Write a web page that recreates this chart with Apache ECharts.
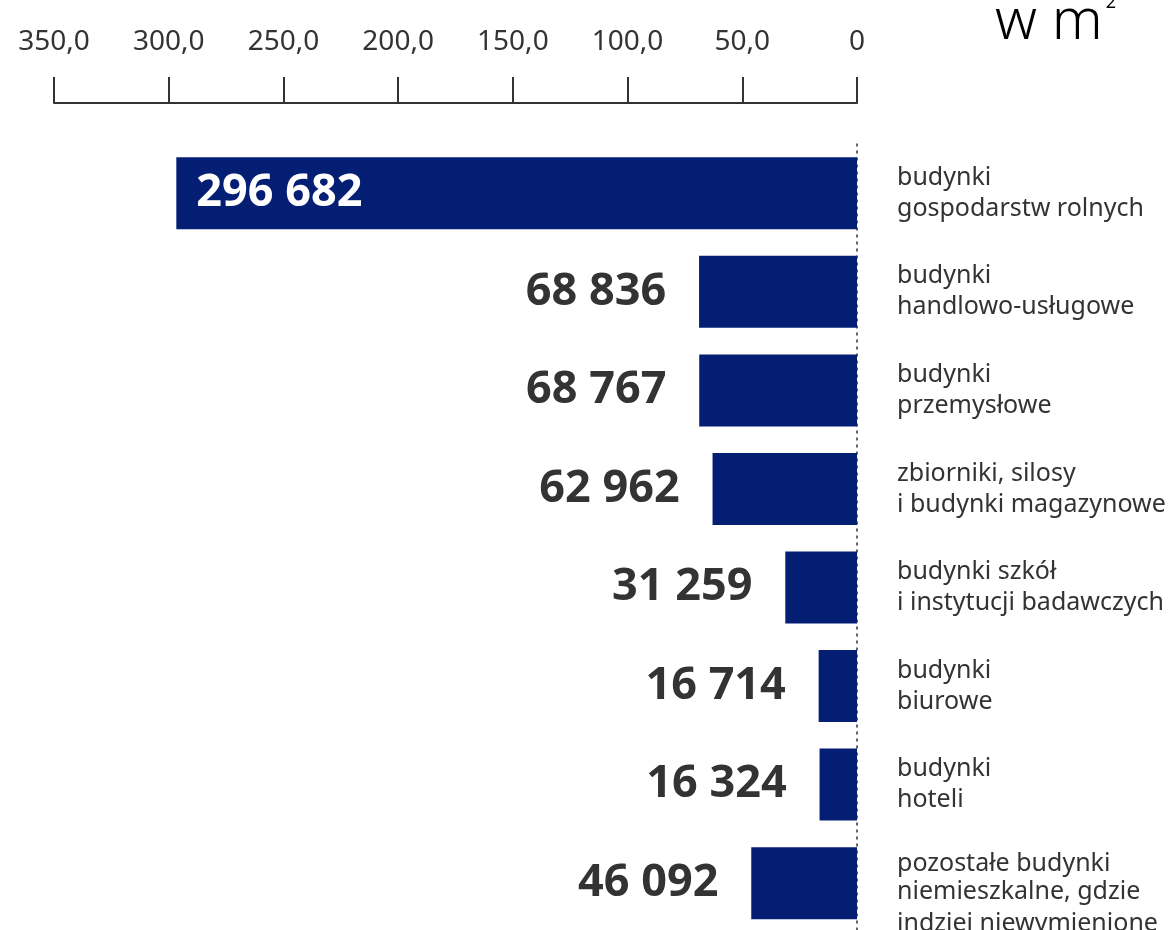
<!DOCTYPE html>
<html><head><meta charset="utf-8">
<script src="https://cdn.jsdelivr.net/npm/echarts@6/dist/echarts.min.js"></script>
<style>html,body{margin:0;padding:0;background:#fff;overflow:hidden}#c{width:1170px;height:940px}</style>
</head><body><div id="c"></div>
<script>
const categories = [
  'budynki\ngospodarstw rolnych',
  'budynki\nhandlowo-usługowe',
  'budynki\nprzemysłowe',
  'zbiorniki, silosy\ni budynki magazynowe',
  'budynki szkół\ni instytucji badawczych',
  'budynki\nbiurowe',
  'budynki\nhoteli',
  'pozostałe budynki\nniemieszkalne, gdzie\nindziej niewymienione'
];
const values = [296.682, 68.836, 68.767, 62.962, 31.259, 16.714, 16.324, 46.092];
const valueLabels = ['296 682','68 836','68 767','62 962','31 259','16 714','16 324','46 092'];
const tickValues = [0, 50, 100, 150, 200, 250, 300, 350];
const unitText = 'w m';

const FONT = '"Noto Sans", "Open Sans", sans-serif';
const chart = echarts.init(document.getElementById('c'));
chart.setOption({
  animation: false,
  textStyle: {fontFamily: FONT},
  grid: {left: 54, right: 313, top: 144, bottom: 5, containLabel: false},
  xAxis: {
    type: 'value', position: 'top', inverse: true, min: 0, max: 350, interval: 50,
    offset: 41,
    axisLine: {show: true, lineStyle: {color: '#333', width: 2}},
    axisTick: {show: true, length: 26, lineStyle: {color: '#333', width: 2}},
    splitLine: {show: false},
    axisLabel: {margin: 47, color: '#333', fontSize: 28, fontFamily: FONT,
      formatter: v => v === 0 ? '0' : v.toFixed(1).replace('.', ',')}
  },
  yAxis: {
    type: 'category', inverse: true, position: 'right', data: categories,
    axisLine: {show: true, lineStyle: {color: '#333', width: 1.5, type: [2, 5]}},
    axisTick: {show: false},
    axisLabel: {margin: 40, color: '#333', fontSize: 25, lineHeight: 31, align: 'left', fontFamily: FONT,
      formatter: (v, i) => {
        const lines = v.split('\n');
        if (lines.length < 3) return lines.map(l => '{n|' + l + '}').join('\n');
        return lines.map((l, k) => (k === 0 ? '{f|' : '{m|') + l + '}').join('\n');
      },
      rich: {
        n: {fontSize: 25, lineHeight: 31, color: '#333', fontFamily: FONT},
        m: {fontSize: 25, lineHeight: 32, color: '#333', fontFamily: FONT},
        f: {fontSize: 25, lineHeight: 50, verticalAlign: 'bottom', color: '#333', fontFamily: FONT}
      }
    }
  },
  series: [{
    type: 'bar', barWidth: 72,
    itemStyle: {color: '#041E74'},
    data: values.map((v, i) => ({
      value: v,
      label: i === 0 ? {show: true, position: 'insideLeft', distance: 20, color: '#fff', fontSize: 45, fontWeight: 'bold',
                         formatter: () => valueLabels[i]}
                     : {show: true, position: 'left', distance: 103, align: 'center', color: '#333', fontSize: 45, fontWeight: 'bold',
                         formatter: () => valueLabels[i]}
    }))
  }],
  graphic: [{
    type: 'text', left: 995, top: -6,
    style: {text: '{a|' + unitText + '}{s|2}', rich: {
      a: {fontSize: 57, color: '#333', fontFamily: FONT, fontWeight: 300},
      s: {fontSize: 18, color: '#333', fontFamily: FONT, verticalAlign: 'top', padding: [0,0,22,3]}
    }}
  }]
});
</script></body></html>
